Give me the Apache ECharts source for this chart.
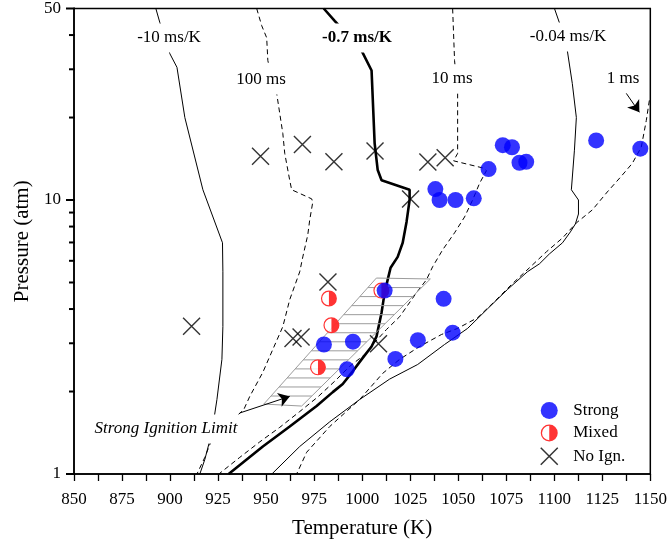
<!DOCTYPE html>
<html>
<head>
<meta charset="utf-8">
<script src="https://cdn.jsdelivr.net/npm/echarts@6/dist/echarts.min.js"></script>
<style>
  html, body { margin: 0; padding: 0; background: #fff; }
  #chart { width: 670px; height: 544px; }
</style>
</head>
<body>
<div id="chart"></div>
<script>
// ---- Axis ticks ----
const yTickLabels = [1, 10, 50];
const yMajorTicks = [1, 10, 50];
const yMinorTicks = [2, 3, 4, 5, 6, 7, 8, 9, 20, 30, 40];

// ---- Experimental points: temperature (K) / pressure (atm) ----
const strongT = [1011.7, 1042.4, 980.1, 995.2, 1047.1, 1029.0, 1017.3, 992.1,
                 1038.1, 1040.3, 1048.6, 1058.1, 1065.8, 1073.2, 1078.0, 1081.9, 1085.4, 1121.8, 1144.8];
const strongP = [4.67, 4.36, 2.97, 3.04, 3.28, 3.08, 2.63, 2.41,
                 10.96, 10.0, 10.0, 10.14, 12.97, 15.85, 15.58, 13.68, 13.78, 16.5, 15.4];

const mixedT = [1010.0, 982.7, 984.0, 977.0];
const mixedP = [4.67, 4.37, 3.49, 2.45];

const noIgnT = [911.2, 947.1, 968.9, 985.3, 1006.7, 1034.2, 1043.2, 1025.2, 982.2, 964.0, 968.2, 1008.5];
const noIgnP = [3.46, 14.45, 15.94, 13.78, 15.1, 13.75, 14.27, 10.08, 5.02, 3.12, 3.16, 2.99];

// ---- Contours: dτ/dT (solid) and ignition delay τ (dashed) ----
const m10T = [892.6, 894.7, 899.9, 903.6, 907.7, 917.1, 927.3, 927.5, 927.5, 927.0, 924.4, 921.8, 918.1, 915.5];
const m10P = [50, 44.4, 34.2, 30.5, 20.0, 10.9, 6.98, 5.47, 3.45, 2.62, 1.87, 1.42, 1.13, 1.0];

const d100T = [945.1, 947.7, 950.3, 950.9, 952.9, 955.5, 957.1, 958.7, 959.7, 962.3, 963.3, 973.7, 974.3,
               972.7, 971.7, 969.1, 967.5, 962.3, 958.7, 953.5, 948.3, 941.5, 938.4, 921.8, 918.1, 914.0];
const d100P = [50, 43.3, 39.1, 32.3, 27.8, 24.5, 20.7, 17.5, 14.8, 11.8, 10.9, 10.1, 9.83,
               8.46, 7.46, 6.20, 5.47, 4.33, 3.45, 2.85, 2.35, 1.92, 1.72, 1.34, 1.15, 1.0];

const m07T = [980.0, 985.7, 999.7, 1004.9, 1006.5, 1008.1, 1010.1, 1024.7, 1024.7, 1023.1, 1021.1, 1018.5,
              1014.8, 1013.3, 1011.7, 1010.1, 1007.5, 1004.9, 999.7, 995.1, 989.9, 984.7, 976.3, 962.3, 948.3, 930.5];
const m07P = [50, 45.1, 35.1, 29.7, 16.1, 12.86, 11.8, 10.9, 10.0, 8.32, 6.98, 6.20,
              5.66, 5.12, 4.59, 3.88, 3.18, 2.92, 2.62, 2.37, 2.13, 1.99, 1.77, 1.49, 1.26, 1.0];

const d10T = [1047.1, 1048.1, 1049.7, 1049.7, 1047.6, 1062.7, 1064.7, 1061.1, 1057.5, 1053.3, 1048.1, 1041.9,
              1036.7, 1033.5, 1028.3, 1019.5, 1012.7, 1006.5, 1001.3, 993.5, 985.7, 976.9, 967.5, 957.1, 946.7, 936.3, 925.4];
const d10P = [50, 32.3, 24.5, 14.8, 13.9, 13.1, 12.8, 11.5, 10.0, 8.67, 7.59, 6.58,
              5.71, 5.12, 4.59, 3.75, 3.37, 3.02, 2.73, 2.47, 2.18, 1.91, 1.69, 1.48, 1.31, 1.15, 1.0];

const m004T = [1100.1, 1103.2, 1106.8, 1109.4, 1111.5, 1110.5, 1108.9, 1112.6, 1112.6, 1111.0, 1108.4, 1104.3,
               1097.5, 1092.3, 1086.0, 1075.6, 1065.3, 1054.9, 1042.9, 1028.9, 1014.3, 998.7, 983.1, 967.5, 953.0];
const m004P = [50, 43.3, 35.1, 26.6, 20.0, 15.2, 10.9, 10.0, 8.89, 8.18, 7.65, 6.98,
               6.36, 5.85, 5.47, 4.71, 4.01, 3.40, 2.97, 2.51, 2.22, 1.87, 1.55, 1.26, 1.0];

const d1T = [1149.5, 1147.9, 1145.3, 1140.6, 1134.4, 1127.6, 1119.8, 1111.5, 1104.3, 1095.9, 1087.1, 1078.2,
             1068.9, 1060.1, 1049.7, 1041.3, 1029.9, 1019.5, 1010.7, 998.7, 983.1, 971.1, 965.9];
const d1P = [23.1, 19.5, 15.6, 13.6, 12.1, 10.7, 9.20, 8.25, 7.27, 6.47, 5.66, 4.95,
             4.26, 3.72, 3.40, 3.23, 2.92, 2.62, 2.33, 1.87, 1.49, 1.20, 1.0];

// Strong ignition limit band (corners: upper-left, upper-right, lower-right, lower-left)
const hatchT = [1007.4, 1035.5, 968.5, 948.8];
const hatchP = [5.19, 5.15, 1.77, 1.80];

// Annotation arrows [start, end]
const limitArrowT = [936.3, 962.3];
const limitArrowP = [1.67, 1.92];
const oneMsArrowT = [1137.5, 1144.3];
const oneMsArrowP = [24.5, 20.9];

const X_MIN = 850, X_MAX = 1150;
const FONT = '"Liberation Serif", "Times New Roman", serif';
const pairs = (ts, ps) => ts.map((t, i) => [t, ps[i]]);

const mixedIcon = 'path://M10,0 A10,10 0 1,1 10,20 A10,10 0 1,1 10,0 Z ' +
                  'M10,1.5 A8.5,8.5 0 1,0 10,18.5 A8.5,8.5 0 1,0 10,1.5 Z ' +
                  'M10,1.5 A8.5,8.5 0 0,1 10,18.5 Z';
const crossIcon = 'path://M0,0 L10,10 M10,0 L0,10';

function contour(name, ts, ps, width, dashed) {
  return {
    type: 'line', name: name, data: pairs(ts, ps), symbol: 'none', smooth: false,
    silent: true, z: 2,
    lineStyle: { color: '#000', width: width, type: dashed ? [5, 3.5] : 'solid' }
  };
}

function arrow(ts, ps) {
  return {
    type: 'line', data: [], silent: true, z: 4,
    markLine: {
      silent: true, animation: false,
      symbol: ['none', 'arrow'], symbolSize: 11,
      label: { show: false },
      lineStyle: { color: '#000', width: 1, type: 'solid' },
      data: [[{ coord: [ts[0], ps[0]] }, { coord: [ts[1], ps[1]] }]]
    }
  };
}

function label(text, x, y, weight, pad) {
  return {
    type: 'text', z: 100, x: x, y: y,
    style: {
      text: text, font: weight + ' 17px ' + FONT, fill: '#000',
      align: 'center', verticalAlign: 'middle', backgroundColor: '#fff', padding: pad
    }
  };
}

const labels = [
  label('-10 ms/K', 169, 38, 'normal', [6, 3]),
  label('100 ms', 261, 80, 'normal', [6, 3]),
  label('-0.7 ms/K', 357, 38, 'bold', [6, 3]),
  label('10 ms', 452, 79, 'normal', [6, 3]),
  label('-0.04 ms/K', 568, 37, 'normal', [6, 3]),
  label('1 ms', 623, 79, 'normal', [2, 2]),
  label('Strong Ignition Limit', 166, 429, 'italic', [6, 3])
];

const chart = echarts.init(document.getElementById('chart'), null, { renderer: 'canvas' });

const option = {
  animation: false,
  backgroundColor: '#fff',
  grid: { left: 74, right: 19, top: 8, bottom: 69, show: true, borderColor: '#000', borderWidth: 1.5, backgroundColor: 'transparent' },
  xAxis: {
    type: 'value', min: X_MIN, max: X_MAX, interval: 25,
    name: 'Temperature (K)', nameLocation: 'middle', nameGap: 44,
    nameTextStyle: { fontFamily: FONT, fontSize: 21, color: '#000' },
    axisLine: { show: true, onZero: false, lineStyle: { color: '#000', width: 1.5 } },
    axisTick: { show: true, length: 7, lineStyle: { color: '#000', width: 1.3 } },
    minorTick: { show: true, splitNumber: 2, length: 7, lineStyle: { color: '#000', width: 1.3 } },
    axisLabel: { fontFamily: FONT, fontSize: 17, color: '#000', margin: 17, formatter: v => String(v) },
    splitLine: { show: false }
  },
  yAxis: {
    type: 'log', logBase: 10, min: 1, max: 50,
    name: 'Pressure (atm)', nameLocation: 'middle', nameGap: 39, nameRotate: 90,
    nameTextStyle: { fontFamily: FONT, fontSize: 21, color: '#000' },
    axisLine: { show: true, onZero: false, lineStyle: { color: '#000', width: 1.5 } },
    axisTick: { show: false },
    axisLabel: { fontFamily: FONT, fontSize: 17, color: '#000', margin: 13, customValues: yTickLabels },
    splitLine: { show: false }
  },
  legend: {
    orient: 'vertical', left: 535, top: 397,
    itemWidth: 38, itemHeight: 17, itemGap: 5.5,
    textStyle: { fontFamily: FONT, fontSize: 17, color: '#000' },
    selectedMode: false,
    data: [
      { name: 'Strong', icon: 'circle' },
      { name: 'Mixed', icon: mixedIcon, itemStyle: { color: '#f00', borderWidth: 0 } },
      { name: 'No Ign.', icon: crossIcon, itemStyle: { color: '#000', borderColor: '#000', borderWidth: 1.5 } }
    ]
  },
  series: [
    contour('-10 ms/K', m10T, m10P, 1, false),
    contour('100 ms', d100T, d100P, 1, true),
    contour('-0.7 ms/K', m07T, m07P, 2.6, false),
    contour('10 ms', d10T, d10P, 1, true),
    contour('-0.04 ms/K', m004T, m004P, 1, false),
    contour('1 ms', d1T, d1P, 1, true),
    {
      type: 'custom', name: 'limit', silent: true, z: 3, clip: true,
      data: [0],
      renderItem: function (params, api) {
        const pts = hatchT.map((t, i) => api.coord([t, hatchP[i]]));
        const [tl, tr, br, bl] = pts;
        const children = [{ type: 'polygon', shape: { points: pts }, style: { fill: 'none', stroke: '#9c9c9c', lineWidth: 1 } }];
        const yTop = (tl[1] + tr[1]) / 2, yBot = (bl[1] + br[1]) / 2;
        const n = 14;
        for (let k = 1; k < n; k++) {
          const y = yTop + (yBot - yTop) * k / n;
          const fl = (y - tl[1]) / (bl[1] - tl[1]);
          const fr = (y - tr[1]) / (br[1] - tr[1]);
          const xl = tl[0] + (bl[0] - tl[0]) * fl;
          const xr = tr[0] + (br[0] - tr[0]) * fr;
          children.push({ type: 'line', shape: { x1: xl, y1: y, x2: xr, y2: y }, style: { stroke: '#9c9c9c', lineWidth: 1 } });
        }
        return { type: 'group', children: children };
      }
    },
    arrow(limitArrowT, limitArrowP),
    arrow(oneMsArrowT, oneMsArrowP),
    {
      type: 'scatter', name: 'No Ign.', data: pairs(noIgnT, noIgnP), z: 5,
      symbol: crossIcon, symbolSize: 17,
      itemStyle: { color: '#000', borderColor: '#000', borderWidth: 1.4 }
    },
    {
      type: 'scatter', name: 'mixed-fill', data: pairs(mixedT, mixedP), z: 5,
      symbol: 'circle', symbolSize: 16, silent: true,
      itemStyle: { color: '#fff' }
    },
    {
      type: 'scatter', name: 'Mixed', data: pairs(mixedT, mixedP), z: 5,
      symbol: mixedIcon, symbolSize: 16,
      itemStyle: { color: '#f00' }
    },
    {
      type: 'scatter', name: 'Strong', data: pairs(strongT, strongP), z: 5,
      symbol: 'circle', symbolSize: 16,
      itemStyle: { color: '#0000ff' }
    }
  ]
};

chart.setOption(option);

// Outward tick marks on the log pressure axis, placed through the axis scale
function tickMarks(values, len, prefix) {
  return values.map((v, i) => {
    const p = chart.convertToPixel({ gridIndex: 0 }, [X_MIN, v]);
    return {
      type: 'line', id: prefix + i, z: 50, silent: true,
      shape: { x1: p[0] - len, y1: p[1], x2: p[0] + 1, y2: p[1] },
      style: { stroke: '#000', lineWidth: 2 }
    };
  });
}

chart.setOption({
  graphic: labels.concat(tickMarks(yMajorTicks, 8, 'ymaj'), tickMarks(yMinorTicks, 5, 'ymin'))
});
</script>
</body>
</html>
